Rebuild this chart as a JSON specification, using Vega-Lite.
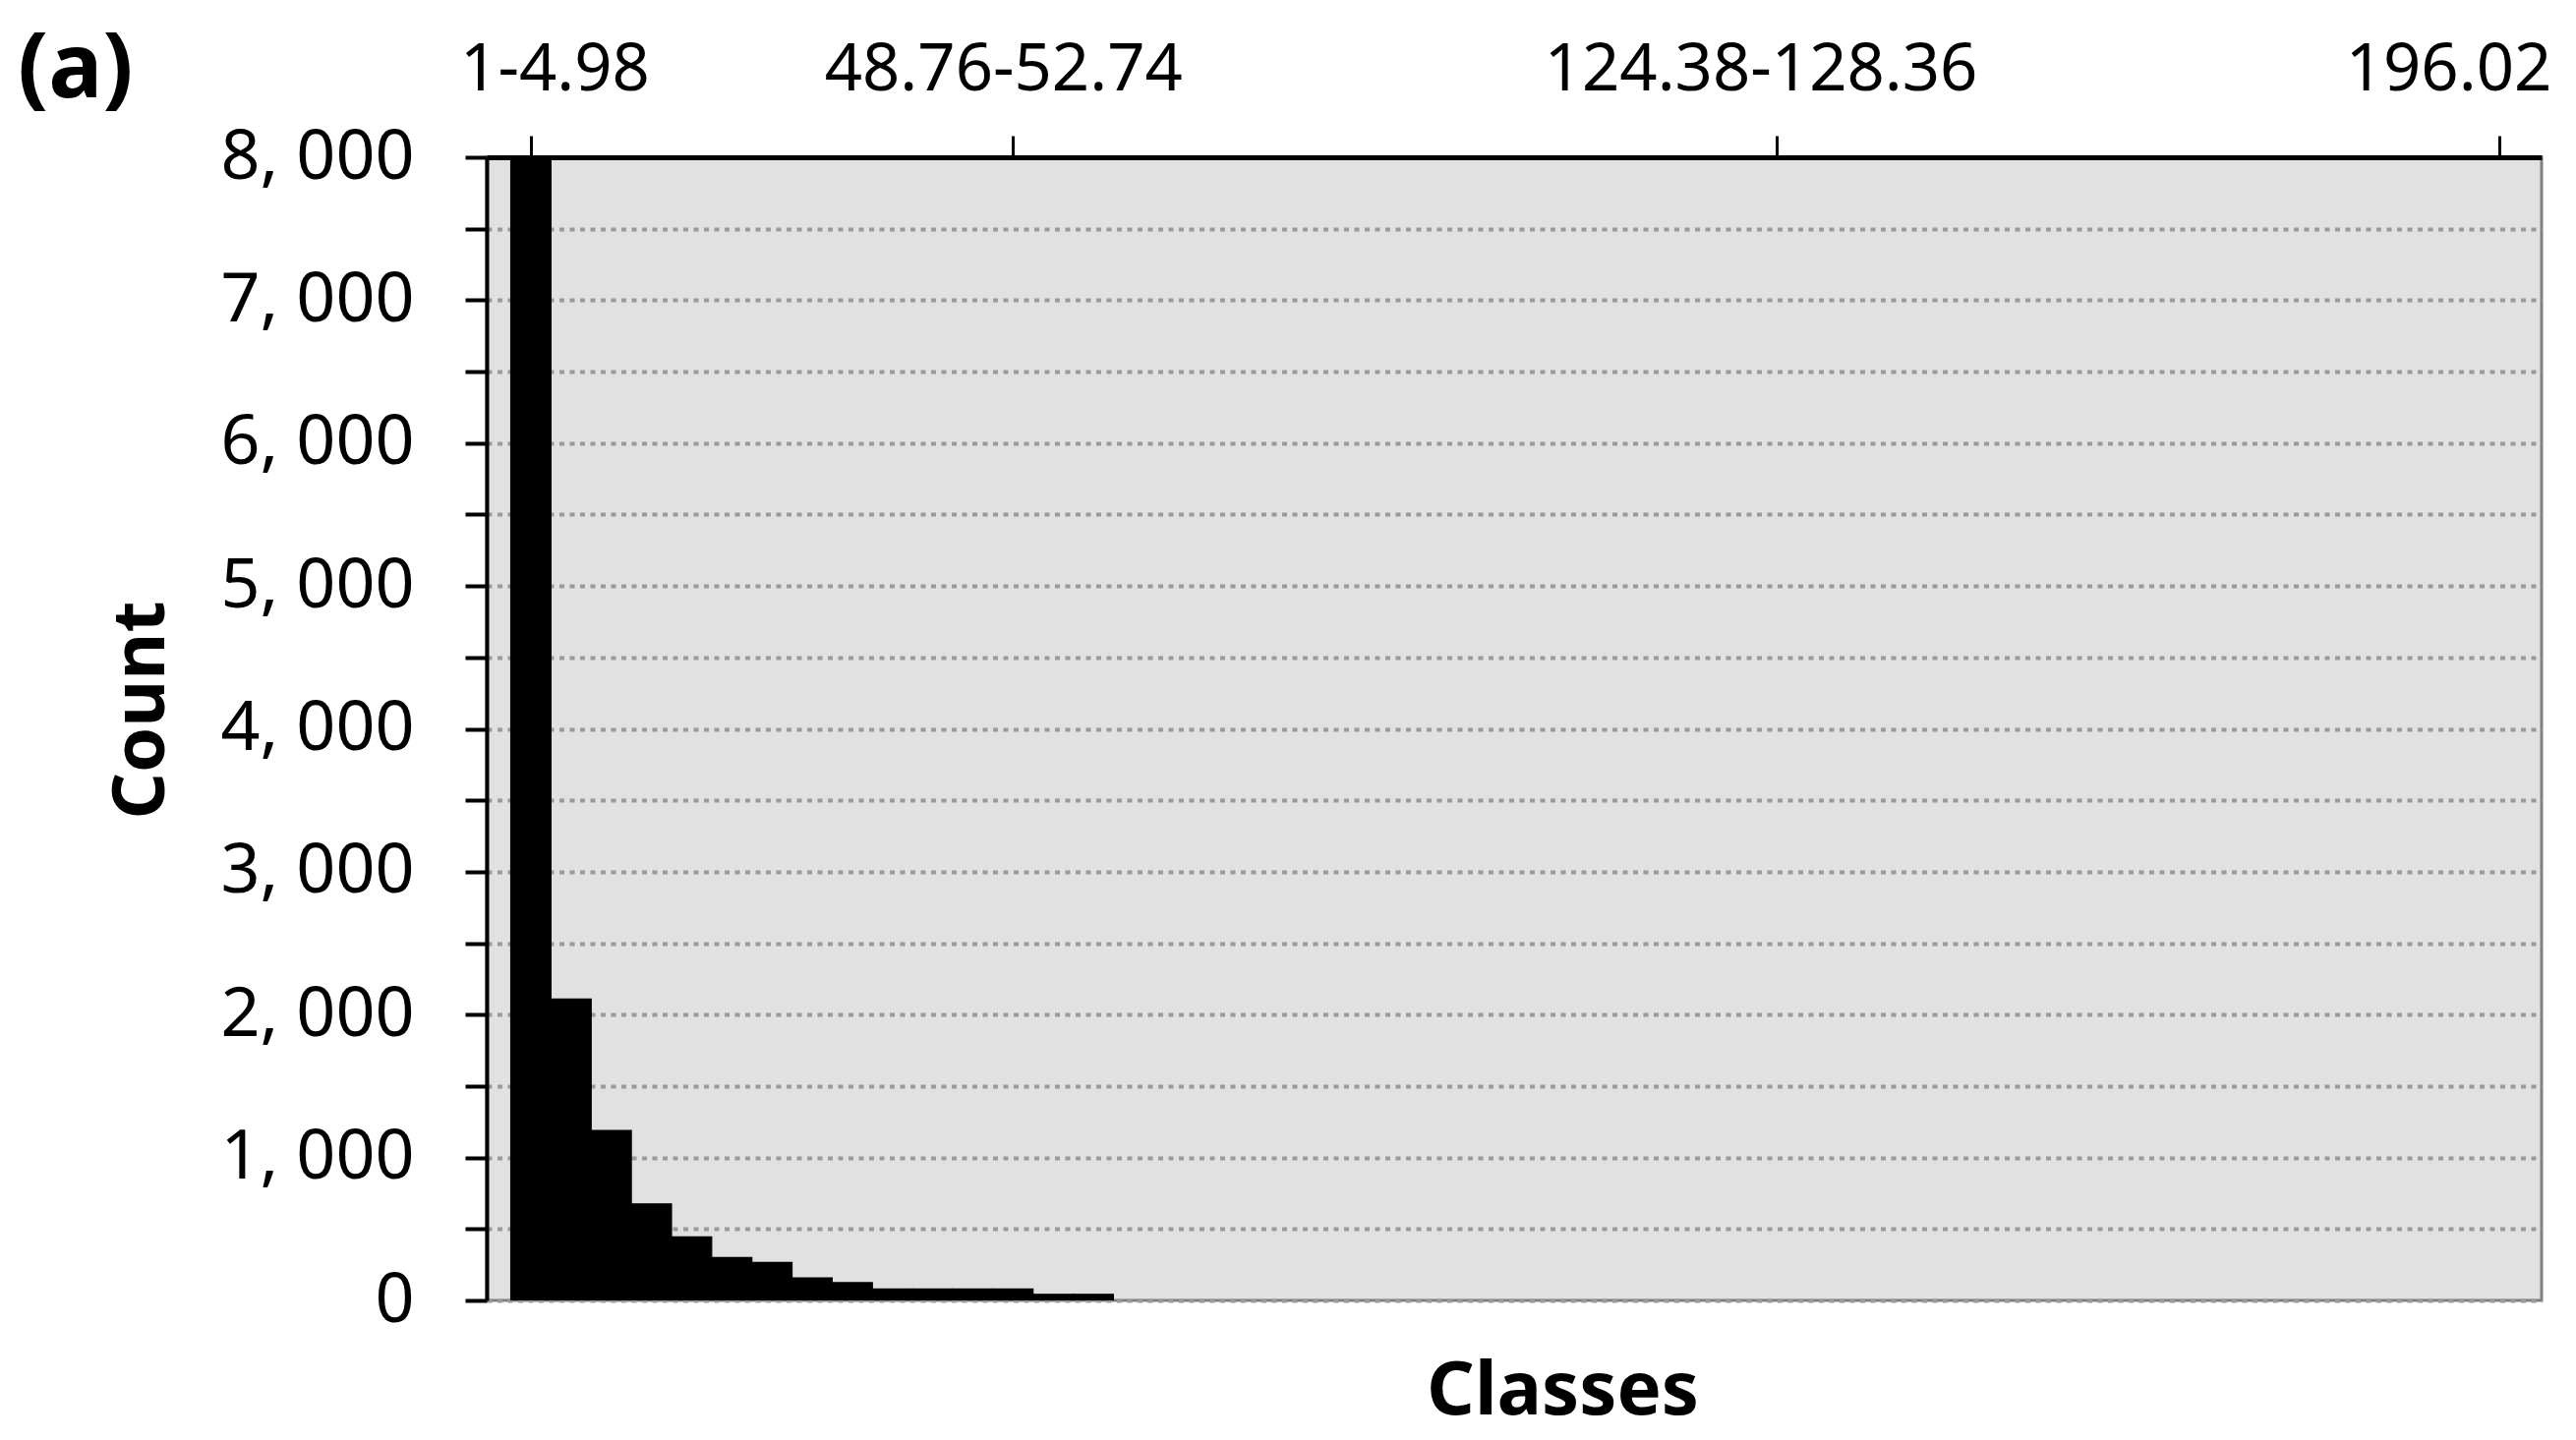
{
  "$schema": "https://vega.github.io/schema/vega-lite/v6.json",
  "autosize": {"type": "none"},
  "width": 2090,
  "height": 1163,
  "padding": {"left": 495, "top": 160, "right": 35, "bottom": 142},
  "background": "white",
  "config": {
    "view": {"stroke": "#808080", "strokeWidth": 3, "fill": "#e1e1e1"}
  },
  "title": {
    "text": "(a)",
    "anchor": "start",
    "frame": "group",
    "orient": "top",
    "font": "Noto Sans",
    "fontSize": 92,
    "fontWeight": "bold",
    "color": "black",
    "baseline": "alphabetic",
    "dx": -477,
    "dy": 158
  },
  "data": {
    "values": [
      {"class": "1-4.98", "start": 1, "end": 4.98, "count": 8000},
      {"class": "4.98-8.96", "start": 4.98, "end": 8.96, "count": 2110},
      {"class": "8.96-12.94", "start": 8.96, "end": 12.94, "count": 1190},
      {"class": "12.94-16.92", "start": 12.94, "end": 16.92, "count": 675},
      {"class": "16.92-20.9", "start": 16.92, "end": 20.9, "count": 445},
      {"class": "20.9-24.88", "start": 20.9, "end": 24.88, "count": 300},
      {"class": "24.88-28.86", "start": 24.88, "end": 28.86, "count": 266},
      {"class": "28.86-32.84", "start": 28.86, "end": 32.84, "count": 158},
      {"class": "32.84-36.82", "start": 32.84, "end": 36.82, "count": 124},
      {"class": "36.82-40.8", "start": 36.82, "end": 40.8, "count": 80},
      {"class": "40.8-44.78", "start": 40.8, "end": 44.78, "count": 80},
      {"class": "44.78-48.76", "start": 44.78, "end": 48.76, "count": 80},
      {"class": "48.76-52.74", "start": 48.76, "end": 52.74, "count": 80},
      {"class": "52.74-56.72", "start": 52.74, "end": 56.72, "count": 43},
      {"class": "56.72-60.7", "start": 56.72, "end": 60.7, "count": 43},
      {"class": "60.7-64.68", "start": 60.7, "end": 64.68, "count": 0},
      {"class": "64.68-68.66", "start": 64.68, "end": 68.66, "count": 0},
      {"class": "68.66-72.64", "start": 68.66, "end": 72.64, "count": 0},
      {"class": "72.64-76.62", "start": 72.64, "end": 76.62, "count": 0},
      {"class": "76.62-80.6", "start": 76.62, "end": 80.6, "count": 0},
      {"class": "80.6-84.58", "start": 80.6, "end": 84.58, "count": 0},
      {"class": "84.58-88.56", "start": 84.58, "end": 88.56, "count": 0},
      {"class": "88.56-92.54", "start": 88.56, "end": 92.54, "count": 0},
      {"class": "92.54-96.52", "start": 92.54, "end": 96.52, "count": 0},
      {"class": "96.52-100.5", "start": 96.52, "end": 100.5, "count": 0},
      {"class": "100.5-104.48", "start": 100.5, "end": 104.48, "count": 0},
      {"class": "104.48-108.46", "start": 104.48, "end": 108.46, "count": 0},
      {"class": "108.46-112.44", "start": 108.46, "end": 112.44, "count": 0},
      {"class": "112.44-116.42", "start": 112.44, "end": 116.42, "count": 0},
      {"class": "116.42-120.4", "start": 116.42, "end": 120.4, "count": 0},
      {"class": "120.4-124.38", "start": 120.4, "end": 124.38, "count": 0},
      {"class": "124.38-128.36", "start": 124.38, "end": 128.36, "count": 0},
      {"class": "128.36-132.34", "start": 128.36, "end": 132.34, "count": 0},
      {"class": "132.34-136.32", "start": 132.34, "end": 136.32, "count": 0},
      {"class": "136.32-140.3", "start": 136.32, "end": 140.3, "count": 0},
      {"class": "140.3-144.28", "start": 140.3, "end": 144.28, "count": 0},
      {"class": "144.28-148.26", "start": 144.28, "end": 148.26, "count": 0},
      {"class": "148.26-152.24", "start": 148.26, "end": 152.24, "count": 0},
      {"class": "152.24-156.22", "start": 152.24, "end": 156.22, "count": 0},
      {"class": "156.22-160.2", "start": 156.22, "end": 160.2, "count": 0},
      {"class": "160.2-164.18", "start": 160.2, "end": 164.18, "count": 0},
      {"class": "164.18-168.16", "start": 164.18, "end": 168.16, "count": 0},
      {"class": "168.16-172.14", "start": 168.16, "end": 172.14, "count": 0},
      {"class": "172.14-176.12", "start": 172.14, "end": 176.12, "count": 0},
      {"class": "176.12-180.1", "start": 176.12, "end": 180.1, "count": 0},
      {"class": "180.1-184.08", "start": 180.1, "end": 184.08, "count": 0},
      {"class": "184.08-188.06", "start": 184.08, "end": 188.06, "count": 0},
      {"class": "188.06-192.04", "start": 188.06, "end": 192.04, "count": 0},
      {"class": "192.04-196.02", "start": 192.04, "end": 196.02, "count": 0},
      {"class": "196.02-200", "start": 196.02, "end": 200, "count": 0}
    ]
  },
  "layer": [
    {
      "mark": {"type": "bar", "color": "black", "clip": true, "strokeWidth": 1.2},
      "encoding": {
        "x": {
          "field": "start",
          "type": "quantitative",
          "scale": {"domain": [-1.39, 202.2], "nice": false, "zero": false},
          "axis": {
            "orient": "top",
            "values": [2.99, 50.75, 126.37, 198.01],
            "labelExpr": "datum.value < 5 ? '1-4.98' : datum.value < 60 ? '48.76-52.74' : datum.value < 150 ? '124.38-128.36' : '196.02'",
            "labelFont": "Noto Sans",
            "labelFontSize": 67,
            "labelColor": "black",
            "labelPadding": 33,
            "labelLimit": 0,
            "labelOffset": {"expr": "datum.value < 5 ? 24 : datum.value > 190 ? -52 : datum.value > 100 ? -16 : -10"},
            "labelOverlap": false,
            "labelFlush": false,
            "tickSize": 22,
            "tickWidth": 3,
            "tickColor": "black",
            "domainColor": "black",
            "domainWidth": 5,
            "grid": false,
            "title": null
          }
        },
        "x2": {"field": "end"},
        "y": {
          "field": "count",
          "type": "quantitative",
          "scale": {"domain": [0, 8000], "nice": false},
          "axis": {
            "orient": "left",
            "values": [0, 500, 1000, 1500, 2000, 2500, 3000, 3500, 4000, 4500, 5000, 5500, 6000, 6500, 7000, 7500, 8000],
            "labelExpr": "datum.value % 1000 === 0 ? replace(format(datum.value, ','), ',', ', ') : ''",
            "labelFont": "Noto Sans",
            "labelFontSize": 70,
            "labelColor": "black",
            "labelPadding": 52,
            "labelLimit": 0,
            "labelOverlap": false,
            "labelFlush": false,
            "tickSize": 22,
            "tickWidth": 4,
            "tickColor": "black",
            "domainColor": "black",
            "domainWidth": 4,
            "grid": true,
            "gridColor": "#9a9a9a",
            "gridDash": [5, 5.5],
            "gridWidth": 4,
            "title": "Count",
            "titleFont": "Noto Sans",
            "titleFontSize": 74,
            "titleFontWeight": "bold",
            "titleColor": "black",
            "titleX": -351,
            "titleY": 562,
            "titleAngle": -90,
            "titleAlign": "center",
            "titleBaseline": "middle"
          }
        },
        "y2": {"datum": 0},
        "stroke": {"condition": {"test": "datum.count > 0", "value": "black"}, "value": null}
      }
    },
    {
      "mark": {"type": "rule", "opacity": 0},
      "encoding": {
        "x": {
          "field": "start",
          "type": "quantitative",
          "axis": {
            "orient": "bottom",
            "labels": false,
            "ticks": false,
            "domain": false,
            "grid": false,
            "title": "Classes",
            "titleFont": "Noto Sans",
            "titleFontSize": 76,
            "titleFontWeight": "bold",
            "titleColor": "black",
            "titlePadding": 55,
            "titleX": 1094,
            "titleAlign": "center"
          }
        }
      }
    }
  ],
  "resolve": {"axis": {"x": "independent"}}
}
